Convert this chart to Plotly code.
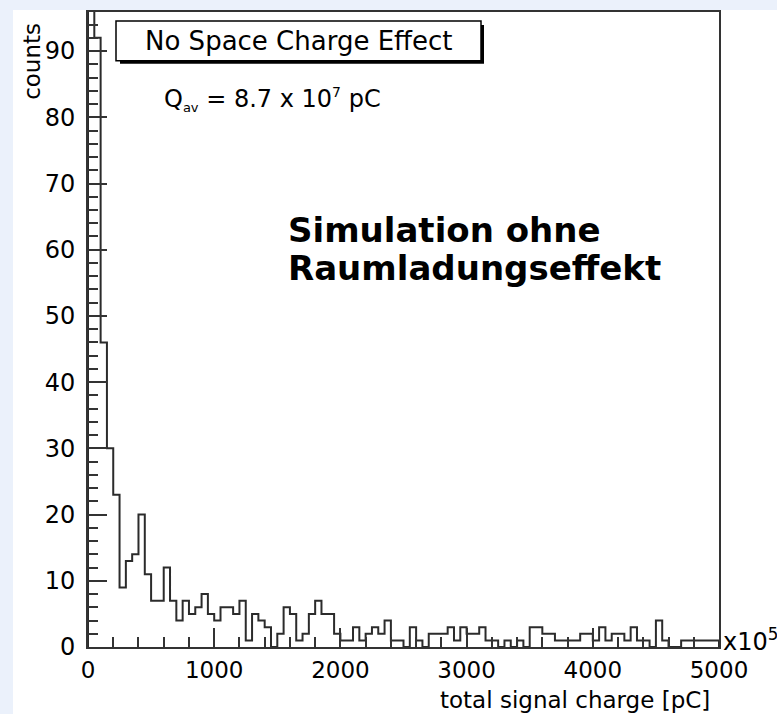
import plotly.graph_objects as go

# ---- data ----
bin_width = 50
x_min, x_max = 0, 5000
counts = [160, 92, 46, 30, 23, 9, 13, 14, 20, 11,
          7, 7, 12, 7, 4, 7, 5, 6, 8, 5,
          4, 6, 6, 5, 7, 1, 5, 4, 3, 0,
          2, 6, 5, 1, 2, 5, 7, 5, 5, 2,
          1, 1, 3, 1, 2, 3, 2, 4, 1, 1,
          0, 3, 1, 0, 2, 2, 2, 3, 1, 3,
          2, 2, 3, 1, 1, 0, 1, 0, 1, 0,
          3, 3, 2, 2, 1, 1, 1, 1, 2, 2,
          1, 3, 1, 2, 2, 1, 3, 1, 1, 0,
          4, 1, 0, 0, 1, 1, 1, 1, 1, 1]
x_ticks = [0, 1000, 2000, 3000, 4000, 5000]
y_ticks = [0, 10, 20, 30, 40, 50, 60, 70, 80, 90]
y_max = 95.9

edges = [x_min + i * bin_width for i in range(len(counts) + 1)]
xs = [edges[0]] + edges[:-1] + [edges[-1], edges[-1]]
ys = [0] + counts + [counts[-1], 0]

W, H = 777, 714
L, R, T, B = 88, 719, 10, 647


def px(xp):
    return (xp - L) / (R - L)


def py(yp):
    return (B - yp) / (B - T)


FONT = "DejaVu Sans"
AX = "#333333"

fig = go.Figure()
fig.add_trace(go.Scatter(x=xs, y=ys, mode="lines", line=dict(shape="hv", color="#2b2b2b", width=2),
                         hoverinfo="skip", showlegend=False))

fig.update_layout(
    width=W, height=H,
    margin=dict(l=L, r=W - R, t=T, b=H - B, pad=0),
    paper_bgcolor="#ebf1fb",
    plot_bgcolor="white",
    showlegend=False,
    font=dict(family=FONT, color="black", size=23),
)

fig.update_xaxes(range=[x_min, x_max], tickvals=x_ticks, ticktext=[str(v) for v in x_ticks],
                 ticks="inside", ticklen=19, tickwidth=1.5, tickcolor=AX,
                 minor=dict(dtick=200, ticks="inside", ticklen=10, tickwidth=1.5, tickcolor=AX),
                 showline=True, linecolor=AX, linewidth=2, mirror=True,
                 showgrid=False, zeroline=False, ticklabelstandoff=1,
                 tickfont=dict(family=FONT, size=23, color="black"))
fig.update_yaxes(range=[0, y_max], tickvals=y_ticks, ticktext=[str(v) for v in y_ticks],
                 ticks="inside", ticklen=19, tickwidth=1.5, tickcolor=AX,
                 minor=dict(dtick=2, ticks="inside", ticklen=10, tickwidth=1.5, tickcolor=AX),
                 showline=True, linecolor=AX, linewidth=2, mirror=True,
                 showgrid=False, zeroline=False, ticklabelstandoff=6,
                 tickfont=dict(family=FONT, size=24, color="black"))

shapes = [
    # white page area of the chart image
    dict(type="rect", xref="paper", yref="paper", x0=px(13), x1=px(W + 5), y0=py(H + 5), y1=py(8),
         fillcolor="white", line=dict(width=0), layer="below"),
    # legend-box shadow
    dict(type="rect", xref="paper", yref="paper", x0=px(120), x1=px(484), y0=py(62), y1=py(23),
         fillcolor="black", line=dict(width=0), layer="above"),
    # legend box
    dict(type="rect", xref="paper", yref="paper", x0=px(116), x1=px(481), y0=py(59), y1=py(19),
         fillcolor="white", line=dict(color="black", width=1.5), layer="above"),
]
fig.update_layout(shapes=shapes)

ann = [
    dict(text="counts", x=px(32), y=py(60), textangle=-90, font=dict(size=23)),
    dict(text="total signal charge [pC]", x=px(712), y=py(700), xanchor="right", font=dict(size=23)),
    dict(text="x10<sup>5</sup>", x=px(721), y=py(640), xanchor="left", font=dict(size=24)),
    dict(text="No Space Charge Effect", x=px(299), y=py(39), font=dict(size=26)),
    dict(text="Q<sub><span style='font-size:13px'>av</span></sub> = 8.7 x 10"
              "<sup><span style='font-size:14px'>7</span></sup> pC",
         x=px(162), y=py(98), xanchor="left", font=dict(size=24)),
    dict(text="<b>Simulation ohne</b>", x=px(286), y=py(229), xanchor="left",
         font=dict(family="DejaVu Sans", size=34)),
    dict(text="<b>Raumladungseffekt</b>", x=px(286), y=py(267), xanchor="left",
         font=dict(family="DejaVu Sans", size=34)),
]
for a in ann:
    a.setdefault("xref", "paper")
    a.setdefault("yref", "paper")
    a.setdefault("showarrow", False)
    a.setdefault("xanchor", "center")
    a.setdefault("yanchor", "middle")
fig.update_layout(annotations=ann)

fig.write_html("out.html")
